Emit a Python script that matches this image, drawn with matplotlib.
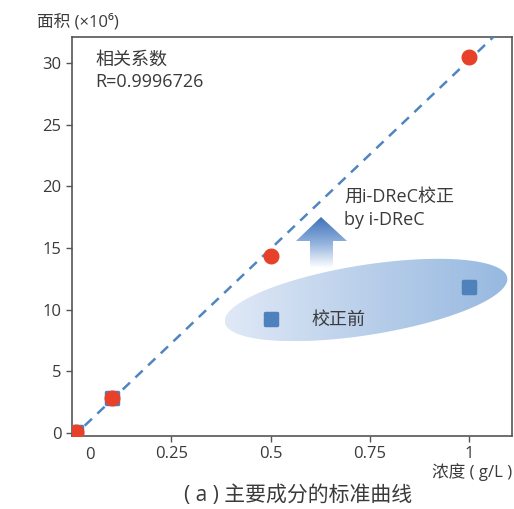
import numpy as np
import matplotlib
matplotlib.use("Agg")
import matplotlib.pyplot as plt
from matplotlib.patches import Polygon
from matplotlib.colors import LinearSegmentedColormap
from matplotlib.markers import MarkerStyle

plt.rcParams['font.family'] = ['Open Sans', 'Noto Sans CJK SC', 'DejaVu Sans']

# concentration (g/L) and peak area (x10^6)
conc = [0.01, 0.1, 0.5, 1.0]
area_corrected = [0.05, 2.84, 14.35, 30.5]
area_raw = [0.05, 2.84, 9.2, 11.85]
xtick_vals = [0.25, 0.5, 0.75, 1.0]
xtick_text = ["0.25", "0.5", "0.75", "1"]
ytick_vals = [0, 5, 10, 15, 20, 25, 30]

W, H = 514, 509
fig = plt.figure(figsize=(W / 100, H / 100), dpi=100)
ax = fig.add_axes([72 / W, (H - 436) / H, 440 / W, 399 / H])
ax.set_xlim(0, 1.108)
ax.set_ylim(-0.25, 32.1)

gray = "#555555"
tc = "#3a3a3a"
for s in ax.spines.values():
    s.set_color(gray)
    s.set_linewidth(1.2)
ax.tick_params(colors=gray, labelcolor=tc, labelsize=12, length=4, width=1)
ax.set_xticks(xtick_vals)
ax.set_xticklabels(xtick_text)
ax.set_yticks(ytick_vals)

# fitted calibration line
k, b = np.polyfit(conc, area_corrected, 1)
xs = np.array([0.0, 1.2])
ax.plot(xs, k * xs + b, color="#4f86c0", lw=1.8, ls=(0, (4, 3)), zorder=3)

fig.canvas.draw()
to_data = ax.transData.inverted().transform


def px(x, y):
    # image pixel (top-left origin) -> data coords
    return to_data([[x, H - y]])[0]


# shaded ellipse around the uncorrected points (built in pixel space)
cx, cy = 366, H - 300
t = np.linspace(0, 2 * np.pi, 200)
a, bb, ang = 143, 35, np.deg2rad(9)
ex = cx + a * np.cos(t) * np.cos(ang) - bb * np.sin(t) * np.sin(ang)
ey = cy + a * np.cos(t) * np.sin(ang) + bb * np.sin(t) * np.cos(ang)
ell = to_data(np.column_stack([ex, ey]))
poly = Polygon(ell, closed=True, facecolor="none", edgecolor="none")
ax.add_patch(poly)
grad = np.linspace(0, 1, 256).reshape(1, -1)
cmap_e = LinearSegmentedColormap.from_list("e", ["#e0e9f6", "#b9cfea", "#97b9e0"])
x0, y0 = ell.min(axis=0)
x1, y1 = ell.max(axis=0)
im = ax.imshow(grad, extent=[x0, x1, y0, y1], aspect="auto", cmap=cmap_e,
               origin="lower", zorder=1, interpolation="bicubic")
im.set_clip_path(poly)

# upward arrow with fading fill
ac = 321
arrow_px = np.array([[ac - 11, 268], [ac + 12, 268], [ac + 12, 241],
                     [ac + 26, 241], [ac, 217], [ac - 25, 241], [ac - 11, 241]])
arr = np.array([px(x, y) for x, y in arrow_px])
apoly = Polygon(arr, closed=True, facecolor="none", edgecolor="none")
ax.add_patch(apoly)
cmap_a = LinearSegmentedColormap.from_list("a", ["#ffffff", "#8fb0dc", "#3f72b8"])
ax0, ay0 = arr.min(axis=0)
ax1, ay1 = arr.max(axis=0)
grad_v = np.linspace(0, 1, 256).reshape(-1, 1)
ia = ax.imshow(grad_v, extent=[ax0, ax1, ay0, ay1], aspect="auto", cmap=cmap_a,
               origin="lower", zorder=1, interpolation="bicubic")
ia.set_clip_path(apoly)
ax.set_xlim(0, 1.108)
ax.set_ylim(-0.25, 32.1)

# data points
sq = MarkerStyle("s", joinstyle="round")
ax.plot(conc, area_raw, ls="none", marker=sq, ms=9, color="#4f81bd",
        mec="#4f81bd", mew=2.5, zorder=4)
ax.plot(conc, area_corrected, ls="none", marker="o", ms=10.5,
        color="#e8412a", mec="#e8412a", zorder=5)

txt = dict(color=tc, fontsize=13, va="center")
ax.text(*px(95, 60), "相关系数", **txt)
ax.text(*px(95, 82), "R=0.9996726", **txt)
ax.text(*px(344, 197), "用i-DReC校正", **txt)
ax.text(*px(344, 220), "by i-DReC", **txt)
ax.text(*px(311, 320), "校正前", **txt)
ax.text(*px(90, 447), "0", color=tc, fontsize=12, ha="center", va="top")

fig.text(37 / W, 1 - 22 / H, "面积 (×10⁶)", fontsize=12, color=tc, va="center")
fig.text(512 / W, 1 - 472 / H, "浓度 ( g/L )", fontsize=12, color=tc,
         va="center", ha="right")
fig.text(298 / W, 1 - 496 / H, "( a ) 主要成分的标准曲线", fontsize=15,
         color=tc, va="center", ha="center")

fig.savefig("out.png", dpi=100)
